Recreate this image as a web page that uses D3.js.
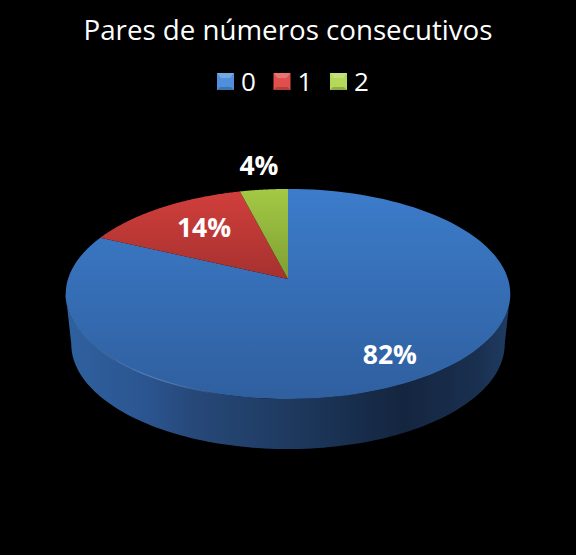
<!DOCTYPE html>
<html>
<head>
<meta charset="utf-8">
<script src="https://cdn.jsdelivr.net/npm/d3@7"></script>
<style>
  html, body { margin: 0; padding: 0; background: #000; }
  svg { display: block; }
  text { font-family: "Open Sans", "Noto Sans", sans-serif; fill: #fff; }
</style>
</head>
<body>
<div id="chart"></div>
<script>
var titleText = "Pares de números consecutivos";
var categories = ["0", "1", "2"];
var values = [82, 14, 4];

var w = 576, h = 555;

// pie sits in perspective, apex is above the middle of the ellipse
var cx = 288, cy = 279,
    rx = 220, ry = 102.9,
    persp = 1 / 7,
    depth = 50,
    bottomScale = 0.975;

var labelRadius = [0.8, 0.67, 1.29];
var labelNudge = [[-2.5, -1], [3.5, -2], [1, -1.5]];

var svg = d3.select("#chart")
    .append("svg")
    .attr("width", w)
    .attr("height", h);

var defs = svg.append("defs");

function vGradient(id, y1, y2, stops) {
    var g = defs.append("linearGradient")
        .attr("id", id)
        .attr("gradientUnits", "userSpaceOnUse")
        .attr("x1", 0).attr("x2", 0)
        .attr("y1", y1).attr("y2", y2);
    stops.forEach(function(s) {
        g.append("stop").attr("offset", s[0]).attr("stop-color", s[1]);
    });
}
function hGradient(id, x1, x2, stops) {
    var g = defs.append("linearGradient")
        .attr("id", id)
        .attr("gradientUnits", "userSpaceOnUse")
        .attr("y1", 0).attr("y2", 0)
        .attr("x1", x1).attr("x2", x2);
    stops.forEach(function(s) {
        g.append("stop").attr("offset", s[0]).attr("stop-color", s[1])
            .attr("stop-opacity", s[2] === undefined ? 1 : s[2]);
    });
}

vGradient("top0", 189, 399, [[0, "#3c7cca"], [1, "#2f5f9f"]]);
vGradient("top1", 189, 285, [[0, "#d23f3c"], [1, "#a2302e"]]);
vGradient("top2", 189, 285, [[0, "#a4c944"], [1, "#7b9c33"]]);
hGradient("side", 66, 510, [
    [0, "#2f619f"], [0.18, "#2b5590"], [0.28, "#27497a"], [0.5, "#1e3a60"],
    [0.76, "#14253f"], [0.93, "#1a3050"], [1, "#1f3c63"]
]);
hGradient("rim", 66, 240, [
    [0, "#5c8fd0", 0.2], [0.5, "#7fa8dc", 0.7], [1, "#7fa8dc", 0]
]);

vGradient("key0", 73, 90, [[0, "#4f8fdc"], [1, "#2f62a6"]]);
vGradient("key1", 73, 90, [[0, "#e04f4c"], [1, "#a93330"]]);
vGradient("key2", 73, 90, [[0, "#b4d858"], [1, "#7f9f35"]]);

// angle (clockwise from back) and radius -> screen point
function project(a, r) {
    var u = Math.sin(a) * r,
        v = Math.cos(a) * r,
        d = 1 + persp * v;
    return [cx + rx * u / d, cy - ry * v / d];
}
function projectBottom(a) {
    var p = project(a, 1);
    return [cx + (p[0] - cx) * bottomScale, p[1] + depth];
}

var line = d3.line();

function sample(a0, a1) {
    return d3.range(0, 121).map(function(i) {
        return a0 + (a1 - a0) * i / 120;
    });
}

var arcs = d3.pie().sort(null)(values);

// side wall, front half of the outline (angle of the widest points)
var leftA = Math.PI + Math.PI / 2 - 0.143,
    rightA = Math.PI / 2 + 0.143;
var frontTop = sample(rightA, leftA).map(function(a) { return project(a, 1); });
var frontBottom = sample(leftA, rightA).map(projectBottom);

svg.append("path")
    .attr("d", line(frontTop.concat(frontBottom)) + "Z")
    .attr("fill", "url(#side)");

// top face
svg.selectAll(".slice")
    .data(arcs)
    .enter()
    .append("path")
    .attr("class", "slice")
    .attr("fill", function(d, i) { return "url(#top" + i + ")"; })
    .attr("d", function(d) {
        var pts = sample(d.startAngle, d.endAngle).map(function(a) { return project(a, 1); });
        return line([[cx, cy]].concat(pts)) + "Z";
    });

// thin highlight on the front edge
svg.append("path")
    .attr("d", line(sample(Math.PI + 0.27, leftA).map(function(a) { return project(a, 1); })))
    .attr("fill", "none")
    .attr("stroke", "url(#rim)")
    .attr("stroke-width", 1);

// percentage labels
svg.selectAll(".pct")
    .data(arcs)
    .enter()
    .append("text")
    .attr("class", "pct")
    .attr("text-anchor", "middle")
    .attr("font-weight", 700)
    .attr("font-size", 26.5)
    .attr("x", function(d, i) {
        return project((d.startAngle + d.endAngle) / 2, labelRadius[i])[0] + labelNudge[i][0];
    })
    .attr("y", function(d, i) {
        return project((d.startAngle + d.endAngle) / 2, labelRadius[i])[1] + 9 + labelNudge[i][1];
    })
    .text(function(d) {
        return Math.round(d.value / d3.sum(values) * 100) + "%";
    });

svg.append("text")
    .attr("x", w / 2)
    .attr("y", 40)
    .attr("text-anchor", "middle")
    .attr("font-size", 27.7)
    .text(titleText);

// legend
var legendX = d3.scalePoint().domain(categories).range([217, 330]);

var keys = svg.selectAll(".key")
    .data(categories)
    .enter()
    .append("g")
    .attr("class", "key")
    .attr("transform", function(d) { return "translate(" + legendX(d) + ",73)"; });

keys.append("rect")
    .attr("width", 17)
    .attr("height", 17)
    .attr("fill", function(d, i) { return "url(#key" + i + ")"; });

// bevel on the legend squares
keys.append("path")
    .attr("d", "M0,0L17,0L13,5L4,5Z")
    .attr("fill", "#fff")
    .attr("opacity", 0.22);
keys.append("path")
    .attr("d", "M0,17L17,17L14,14L3,14Z")
    .attr("fill", "#000")
    .attr("opacity", 0.2);

keys.append("text")
    .attr("x", 24)
    .attr("y", 18)
    .attr("font-size", 26)
    .text(function(d) { return d; });
</script>
</body>
</html>
